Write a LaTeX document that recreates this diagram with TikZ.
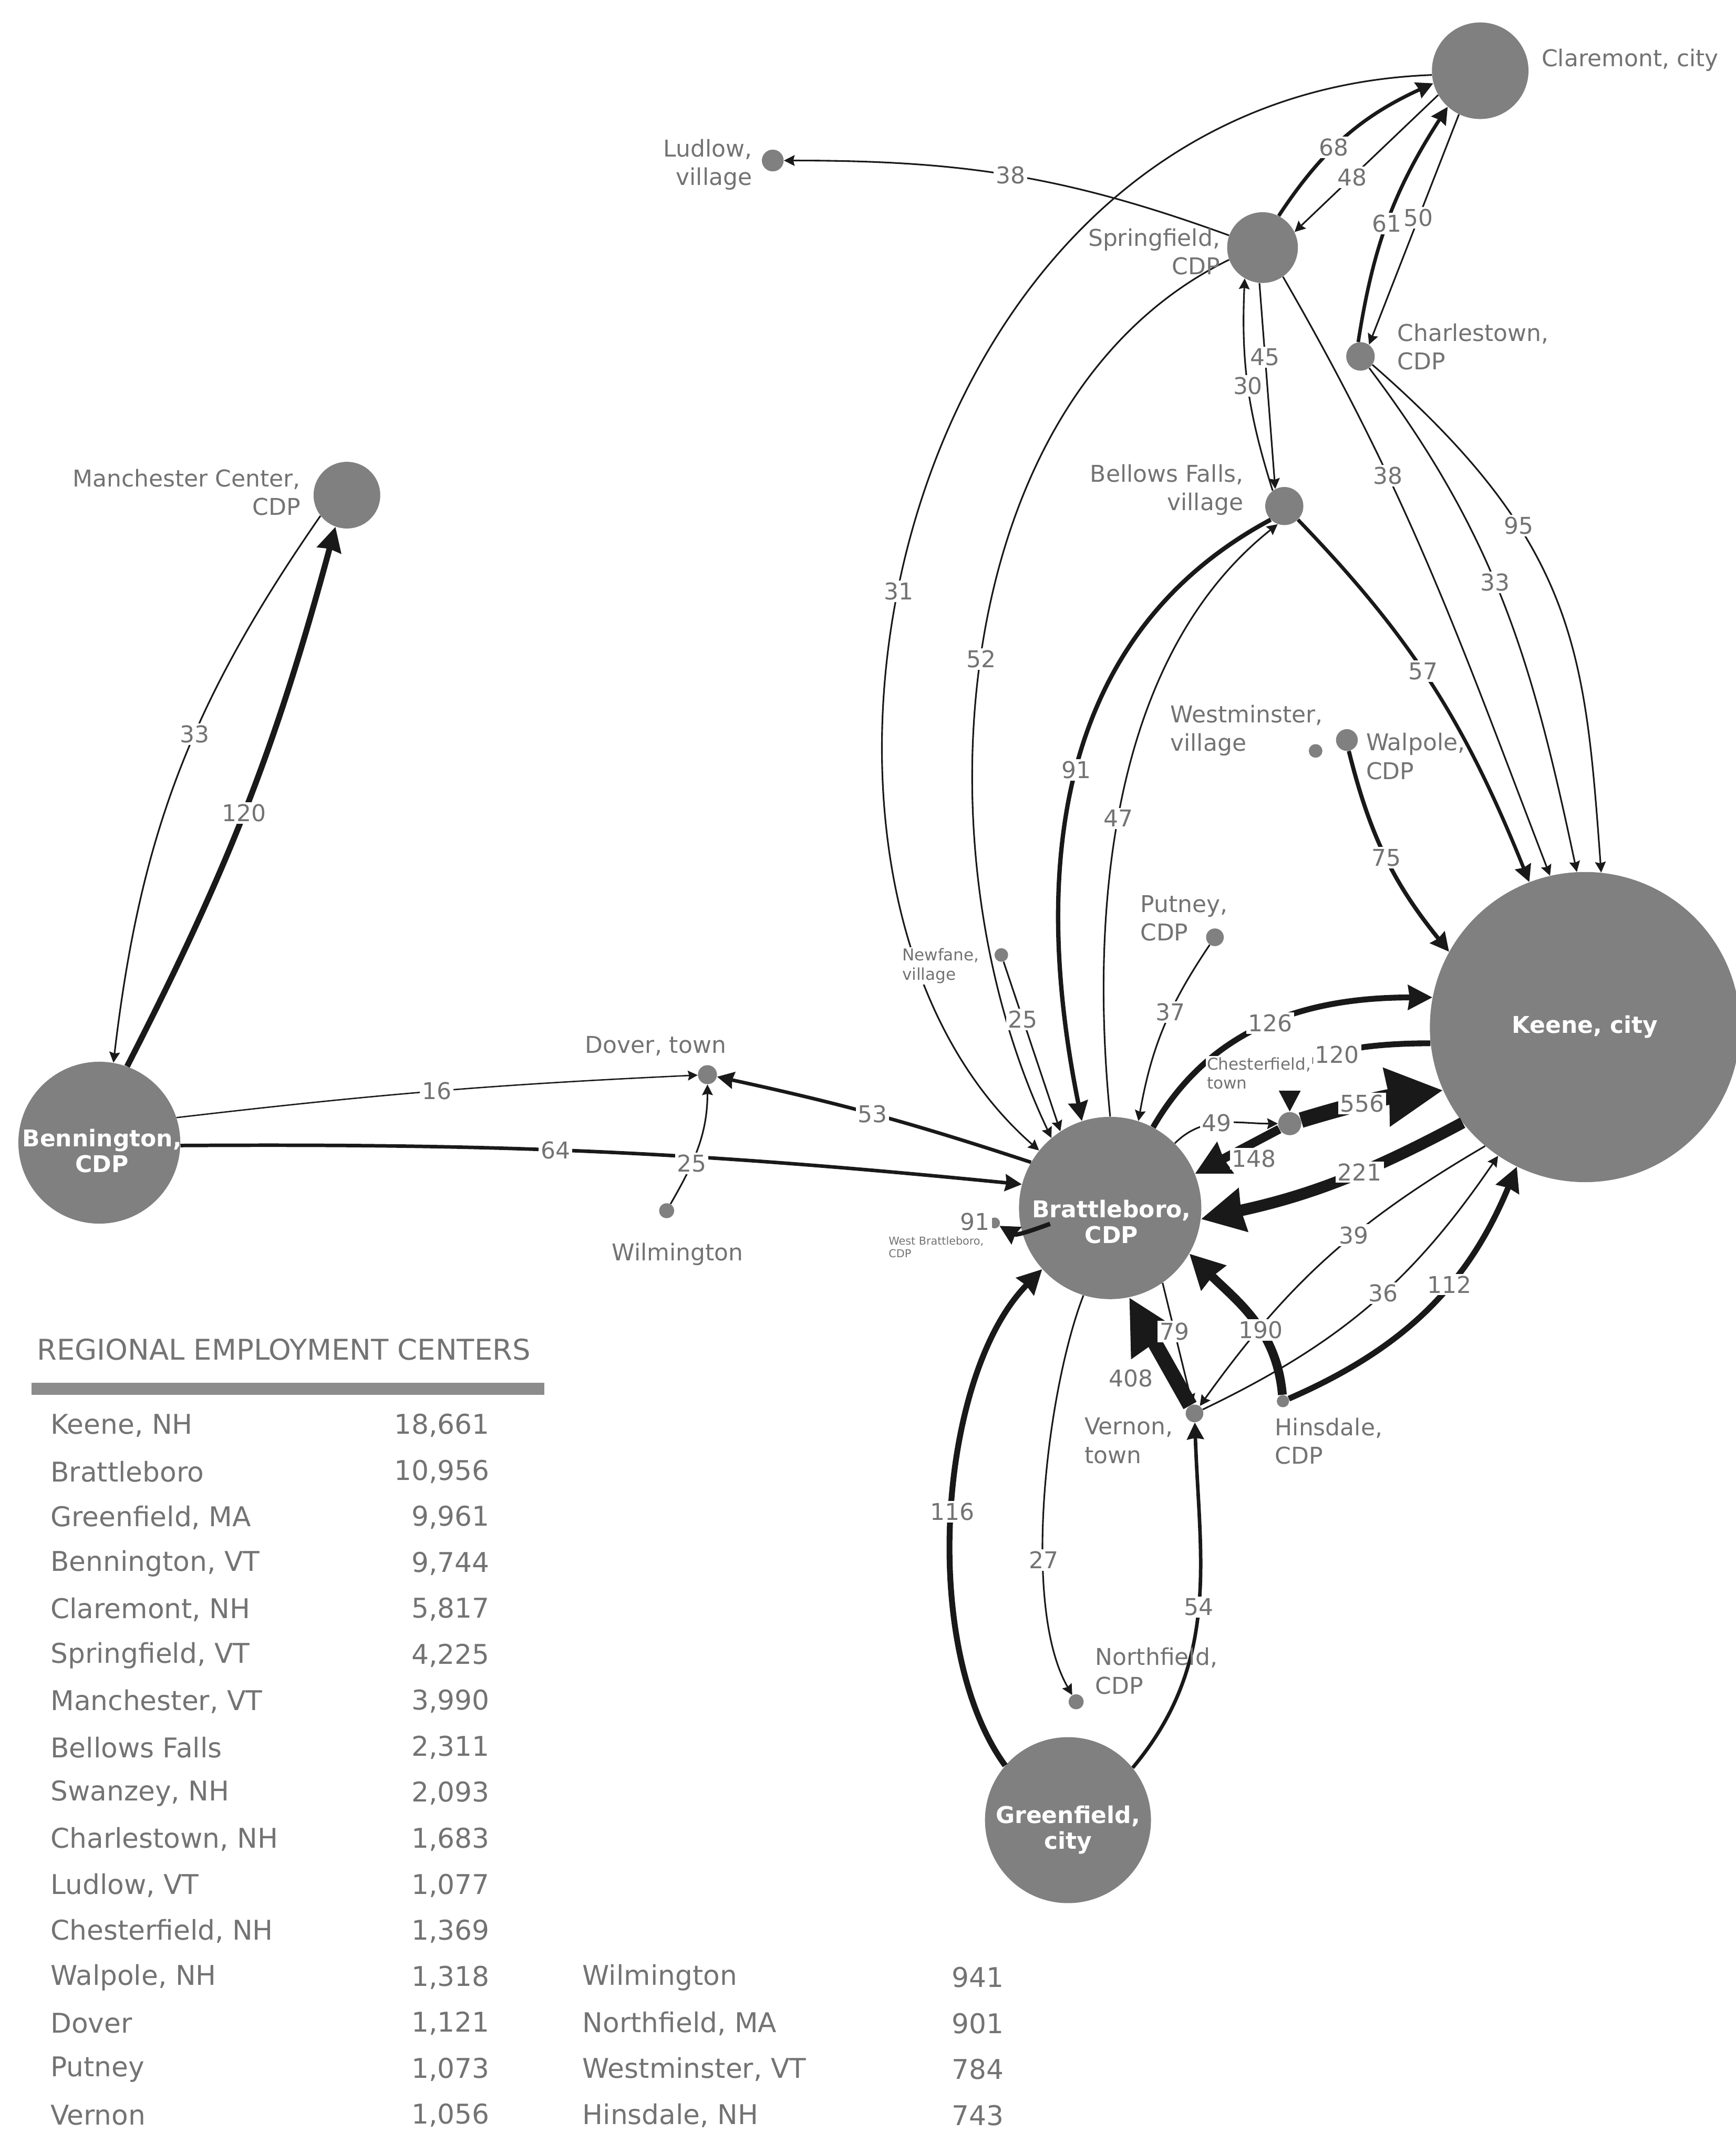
\documentclass[tikz,border=0pt]{standalone}
\usepackage{fontspec}
\setmainfont{DejaVu Sans}
\usetikzlibrary{arrows.meta}

\newcommand{\placefont}{\fontsize{17}{21}\selectfont}
\newcommand{\smallplace}{\fontsize{12}{14}\selectfont}
\newcommand{\numfont}{\fontsize{17}{17}\selectfont}
\newcommand{\rowfont}{\fontsize{20}{20}\selectfont}

\tikzset{
  hub/.style={circle, fill=black!50, inner sep=0pt, minimum size=#1},
  place/.style={text=black!55, font=\placefont, inner sep=0pt},
  tinyplace/.style={text=black!55, font=\smallplace, fill=white, inner sep=1pt, align=left},
  inlbl/.style={text=white, font=\bfseries\fontsize{17}{19}\selectfont, align=center},
  flow/.style={draw=black!90, line width=#1pt, -{Stealth[length=4pt 3.2, width=4pt 3.2, inset=1pt]}},
  num/.style={fill=white, text=black!55, font=\numfont, inner sep=1.5pt},
  row/.style={text=black!55, font=\rowfont, inner sep=0pt},
}

\begin{document}
\begin{tikzpicture}[x=1pt,y=1pt]
\useasboundingbox (0,0) rectangle (1276,-1568);

\node[hub=71pt] (claremont) at (1088,-52) {};
\node[hub=52pt] (springfield) at (928,-182) {};
\node[hub=16pt] (ludlow) at (568,-118) {};
\node[hub=21pt] (charlestown) at (1000,-262) {};
\node[hub=28pt] (bellows) at (944,-372) {};
\node[hub=49pt] (manchester) at (255,-364) {};
\node[hub=119pt] (bennington) at (73,-840) {};
\node[hub=14pt] (dover) at (520,-790) {};
\node[hub=11pt] (wilmington) at (490,-890) {};
\node[hub=10pt] (westminster) at (967,-552) {};
\node[hub=16pt] (walpole) at (990,-544) {};
\node[hub=13pt] (putney) at (893,-689) {};
\node[hub=10pt] (newfane) at (736,-702) {};
\node[hub=134pt] (brat) at (816,-888) {};
\node[hub=228pt] (keene) at (1165,-755) {};
\node[hub=17pt] (chesterfield) at (948,-826) {};
\node[hub=8pt] (westbrat) at (731,-899) {};
\node[hub=13pt] (vernon) at (878,-1039) {};
\node[hub=9pt] (hinsdale) at (943,-1030) {};
\node[hub=11pt] (northfield) at (791,-1251) {};
\node[hub=122pt] (greenfield) at (785,-1338) {};

\draw[flow=1.2] (springfield.160) to[out=160,in=0] node[num]{38} (ludlow);
\draw[flow=2.6] (springfield.63) to[bend left=16] node[num,pos=0.42]{68} (claremont.195);
\draw[flow=1.2] (claremont.210) -- node[num,pos=0.6]{48} (springfield.26);
\draw[flow=2.6] (charlestown.99) to[bend left=12] node[num,pos=0.48]{61} (claremont.228);
\draw[flow=1.2] (claremont.244) -- node[num,pos=0.45]{50} (charlestown.54);
\draw[flow=1.2] (springfield.265) -- node[num,pos=0.36]{45} (bellows.118);
\draw[flow=1.2] (bellows.127) to[bend left=10] node[num]{30} (springfield.240);
\draw[flow=1.2] (claremont.185) .. controls (650,-70) and (540,-650) .. node[num,pos=0.55]{31} (brat.141);
\draw[flow=1.2] (springfield.200) .. controls (700,-290) and (670,-620) .. node[num,pos=0.52]{52} (brat.130);
\draw[flow=1.2] (springfield.-55) to[out=-60,in=111] node[num,pos=0.33]{38} (keene.103);
\draw[flow=1.2] (charlestown.-53) to[out=-53,in=102] node[num,pos=0.45]{33} (keene.93);
\draw[flow=1.2] (charlestown.-35) .. controls (1160,-400) and (1165,-480) .. node[num,pos=0.33]{95} (keene.84);
\draw[flow=2.6] (bellows.-45) to[out=-46,in=112] node[num,pos=0.45]{57} (keene.111);
\draw[flow=3.2] (bellows.225) .. controls (770,-470) and (760,-650) .. node[num,pos=0.49]{91} (brat.108);
\draw[flow=1.2] (brat.90) .. controls (800,-660) and (820,-480) .. node[num,pos=0.45]{47} (bellows.250);
\draw[flow=3.0] (walpole.-80) to[out=-76,in=129] node[num]{75} (keene.151);
\draw[flow=1.2] (newfane) -- node[num,pos=0.34]{25} (brat.123);
\draw[flow=1.2] (putney) to[bend right=12] node[num,pos=0.4]{37} (brat.72);
\draw[flow=4.3] (brat.62) to[out=60,in=180] node[num]{126} (keene.169);
\draw[flow=4.3] (keene.186) to[out=180,in=90] node[num]{120} (chesterfield);
\draw[flow=11.5] (chesterfield) to[bend left=5] node[num,pos=0.43]{556} (keene.204);
\draw[flow=6.5] (chesterfield) -- node[num,pos=0.3,yshift=-12pt]{148} (brat.22);
\draw[flow=1.2] (brat.45) to[out=45,in=180] node[num,pos=0.45]{49} (chesterfield);
\draw[flow=8.5] (keene.218) to[bend left=8] node[num,pos=0.4]{221} (brat.-7);
\draw[flow=1.2] (keene.230) to[bend right=12] node[num,pos=0.4]{39} (vernon);
\draw[flow=1.2] (vernon) to[bend right=15] node[num,pos=0.55]{36} (keene.236);
\draw[flow=4.3] (hinsdale) to[bend right=22] node[num,pos=0.6]{112} (keene.244);
\draw[flow=6.5] (hinsdale) to[out=95,in=-45] node[num,pos=0.4]{190} (brat.-30);
\draw[flow=11] (vernon) -- node[num,pos=0.25,left=9pt]{408} (brat.-78);
\draw[flow=1.2] (brat.-55) -- node[num,pos=0.4]{79} (vernon);
\draw[flow=3.2] ([xshift=22pt]brat.190) to[out=200,in=-30] node[num,pos=1,anchor=east,xshift=-4pt,yshift=3pt]{91} (westbrat);
\draw[flow=4.3] (greenfield.139) .. controls (675,-1210) and (690,-1010) .. node[num]{116} (brat.-138);
\draw[flow=1.2] (brat.-107) .. controls (770,-1020) and (750,-1180) .. node[num,pos=0.64]{27} (northfield);
\draw[flow=2.6] (greenfield.39) to[out=50,in=-88] node[num]{54} (vernon);
\draw[flow=4.3] (bennington.70) to[bend right=6] node[num,pos=0.48]{120} (manchester.250);
\draw[flow=1.2] (manchester.218) to[bend right=14] node[num,pos=0.42]{33} (bennington.80);
\draw[flow=1.0] (bennington.18) to[bend left=2] node[num]{16} (dover);
\draw[flow=2.6] (bennington.-2) to[bend left=3] node[num,pos=0.44]{64} (brat.165);
\draw[flow=2.6] (brat.150) to[bend right=3] node[num,pos=0.51]{53} (dover);
\draw[flow=1.2] (wilmington) to[out=60,in=-90] node[num,pos=0.35]{25} (dover);

\node[place, anchor=west] (claremontname) at (1133,-44) {Claremont, city};
\node[place, anchor=east, align=right] (springfieldname) at (897,-185) {Springfield,\\CDP};
\node[place, anchor=east, align=right] (ludlowname) at (553,-121) {Ludlow,\\village};
\node[place, anchor=west, align=left] (charlestownname) at (1027,-255) {Charlestown,\\CDP};
\node[place, anchor=east, align=right] (bellowsname) at (914,-360) {Bellows Falls,\\village};
\node[place, anchor=east, align=right] (manchestername) at (221,-362) {Manchester Center,\\CDP};
\node[place] (dovername) at (482,-769) {Dover, town};
\node[place] (wilmingtonname) at (498,-922) {Wilmington};
\node[place, anchor=west, align=left] (westminstername) at (860,-537) {Westminster,\\village};
\node[place, anchor=west, align=left] (walpolename) at (1004,-556) {Walpole,\\CDP};
\node[place, anchor=west, align=left] (putneyname) at (838,-675) {Putney,\\CDP};
\node[tinyplace, anchor=west] (newfanename) at (662,-710) {Newfane,\\village};
\node[tinyplace, anchor=west] (chesterfieldname) at (886,-789) {Chesterfield,\\town};
\node[tinyplace, anchor=north west, font=\fontsize{8}{9}\selectfont] (westbratname) at (652,-908) {West Brattleboro,\\CDP};
\node[place, anchor=north west, align=left] (vernonname) at (797,-1042) {Vernon,\\town};
\node[place, anchor=north west, align=left] (hinsdalename) at (937,-1042) {Hinsdale,\\CDP};
\node[place, anchor=north west, align=left] (northfieldname) at (805,-1211) {Northfield,\\CDP};

\node[inlbl] (keenetxt) at (keene) {Keene, city};
\node[inlbl] (brattxt) at (817,-898) {Brattleboro,\\CDP};
\node[inlbl] (benntxt) at (75,-846) {Bennington,\\CDP};
\node[inlbl] (greentxt) at (785,-1345) {Greenfield,\\city};

\node[row, anchor=west, font=\fontsize{21}{21}\selectfont] (title) at (27,-992) {REGIONAL EMPLOYMENT CENTERS};
\draw[line width=9pt, black!45] (23,-1021) -- (400,-1021);
\foreach \name/\val [count=\i] in {{Keene, NH}/{18,661}, {Brattleboro}/{10,956}, {Greenfield, MA}/{9,961},
    {Bennington, VT}/{9,744}, {Claremont, NH}/{5,817}, {Springfield, VT}/{4,225}, {Manchester, VT}/{3,990},
    {Bellows Falls}/{2,311}, {Swanzey, NH}/{2,093}, {Charlestown, NH}/{1,683}, {Ludlow, VT}/{1,077},
    {Chesterfield, NH}/{1,369}, {Walpole, NH}/{1,318}, {Dover}/{1,121}, {Putney}/{1,073}, {Vernon}/{1,056}}
{
  \node[row, anchor=west] (name\i) at (37,{-1048-33.8*(\i-1)}) {\name};
  \node[row, anchor=east] (val\i) at (360,{-1048-33.8*(\i-1)}) {\val};
}
\foreach \name/\val [count=\i from 13] in {{Wilmington}/{941}, {Northfield, MA}/{901},
    {Westminster, VT}/{784}, {Hinsdale, NH}/{743}}
{
  \node[row, anchor=west] (name\i b) at (428,{-1048-33.8*(\i-1)}) {\name};
  \node[row, anchor=east] (val\i b) at (738,{-1048-33.8*(\i-1)}) {\val};
}
\end{tikzpicture}
\end{document}
